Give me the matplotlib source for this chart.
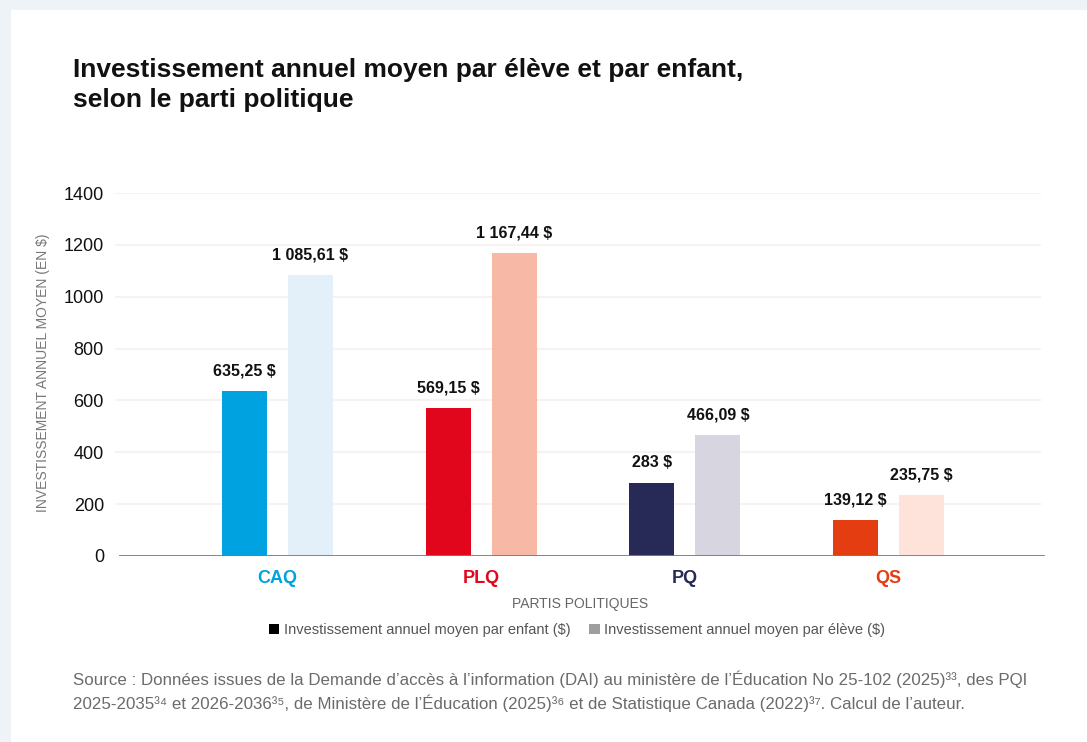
import matplotlib
matplotlib.use("Agg")
import matplotlib.pyplot as plt
from matplotlib.patches import Patch, Rectangle
import numpy as np

partis = ["CAQ", "PLQ", "PQ", "QS"]
par_enfant = [635.25, 569.15, 283, 139.12]
par_eleve = [1085.61, 1167.44, 466.09, 235.75]
etiq_enfant = ["635,25 $", "569,15 $", "283 $", "139,12 $"]
etiq_eleve = ["1 085,61 $", "1 167,44 $", "466,09 $", "235,75 $"]

couleurs_fonce = ["#00a3e0", "#e2061d", "#272a56", "#e43d12"]
couleurs_clair = ["#e3f0fa", "#f7b8a6", "#d7d5e0", "#fde3d9"]

plt.rcParams['font.family'] = ['Liberation Sans', 'DejaVu Sans']

fig = plt.figure(figsize=(10.87, 7.42), dpi=100)
fig.patch.set_facecolor("#eef3f8")
fig.add_artist(Rectangle((11 / 1087, 0), 1, 1 - 10 / 742, transform=fig.transFigure,
                         facecolor="white", edgecolor="none", zorder=0))

ax = fig.add_axes([115 / 1087, 1 - 556 / 742, 930 / 1087, 363 / 742])
ax.set_facecolor("none")

x = np.arange(len(partis))
w = 0.221
d = 0.162
ax.bar(x - d, par_enfant, width=w, color=couleurs_fonce, zorder=3)
ax.bar(x + d, par_eleve, width=w, color=couleurs_clair, zorder=3)

for i in range(len(partis)):
    ax.annotate(etiq_enfant[i], (x[i] - d, par_enfant[i]), xytext=(0, 9),
                textcoords="offset points", ha="center", va="bottom",
                fontsize=11.5, fontweight="bold", color="#111111")
    ax.annotate(etiq_eleve[i], (x[i] + d, par_eleve[i]), xytext=(0, 9),
                textcoords="offset points", ha="center", va="bottom",
                fontsize=11.5, fontweight="bold", color="#111111")

ax.set_xlim(-0.798, 3.768)
ax.set_ylim(0, 1400)
ax.set_yticks(range(0, 1401, 200))
for yv in range(200, 1401, 200):
    ax.axhline(yv, xmin=0, xmax=925 / 930, color="#f7f1f3", lw=1.5, zorder=1)
ax.axhline(0, xmin=5 / 930, xmax=1, color="#7a7a7a", lw=2, zorder=4)

for s in ax.spines.values():
    s.set_visible(False)
ax.tick_params(axis="y", length=0, pad=8, labelsize=13, labelcolor="#111111")
ax.tick_params(axis="x", length=0, pad=10)
ax.set_xticks(x)
ax.set_xticklabels(partis, fontsize=13, fontweight="bold")
for lab, c in zip(ax.get_xticklabels(), couleurs_fonce):
    lab.set_color(c)

ax.set_xlabel("PARTIS POLITIQUES", fontsize=10, color="#666666", labelpad=7)
fig.text(43 / 1087, 1 - 373 / 742, "INVESTISSEMENT ANNUEL MOYEN (EN $)", rotation=90,
         ha="center", va="center", fontsize=10, color="#777777")

handles = [Patch(facecolor="black", edgecolor="none"),
           Patch(facecolor="#9e9e9e", edgecolor="none")]
leg = fig.legend(handles, ["Investissement annuel moyen par enfant ($)",
                           "Investissement annuel moyen par élève ($)"],
                 loc="center", bbox_to_anchor=(577 / 1087, 1 - 630 / 742), ncol=2,
                 frameon=False, fontsize=10.5, handlelength=0.7, handleheight=0.7,
                 handletextpad=0.3, columnspacing=1.3, labelcolor="#555555")

fig.text(73 / 1087, 1 - 85 / 742, "Investissement annuel moyen par élève et par enfant,\nselon le parti politique",
         ha="left", va="center", fontsize=19, fontweight="bold", color="#111111",
         linespacing=1.29)

source = ("Source : Données issues de la Demande d’accès à l’information (DAI) au ministère de l’Éducation No 25-102 (2025)³³, des PQI\n"
          "2025-2035³⁴ et 2026-2036³⁵, de Ministère de l’Éducation (2025)³⁶ et de Statistique Canada (2022)³⁷. Calcul de l’auteur.")
fig.text(73 / 1087, 1 - 691 / 742, source, ha="left", va="center", fontsize=12.2,
         color="#6b6b6b", linespacing=1.45)

fig.savefig("out.png", dpi=100)
